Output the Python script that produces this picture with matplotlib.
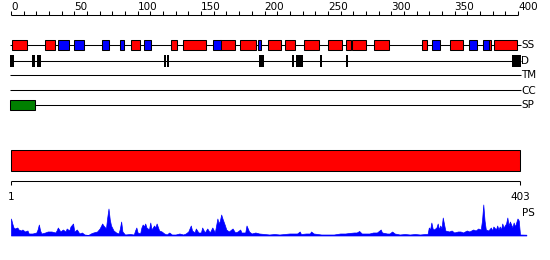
import matplotlib
matplotlib.use('Agg')
import matplotlib.pyplot as plt
import numpy as np

# sequence / ruler
seq_len = 403
ruler_ticks = list(range(0, 401, 10))
ruler_labels = [0, 50, 100, 150, 200, 250, 300, 350, 400]

# secondary structure (start, end) in residues
ss_helix = [(1, 13), (27, 35), (95, 102), (126, 131), (136, 154), (165, 177),
            (181, 193), (203, 213), (216, 224), (231, 243), (250, 261),
            (264, 268), (269, 280), (286, 298), (324, 328), (346, 357),
            (377, 378.5), (381, 399)]
ss_strand = [(37, 45.5), (50, 57.6), (72, 77), (86, 89.2), (105, 110.2),
             (159, 165.4), (195, 197), (332.4, 338.5), (361, 367.4), (372.5, 377)]
disorder = [(-0.8, 2.5), (16.6, 18.7), (20.3, 23.4), (121, 122.1), (123.3, 124.9),
            (195.9, 199.6), (222, 223.5), (225, 230.1), (243.8, 245.4),
            (264.3, 265.6), (395.5, 402.1)]
transmembrane = []
coiled_coil = []
signal_peptide = [(-0.5, 19)]
track_names = ['SS', 'D', 'TM', 'CC', 'SP']

# domain bar
domain = (1, 403)

# PS profile (residue, score)
ps_pos = [1, 2, 3, 4, 6, 7, 9, 10, 12, 14, 15, 18, 21, 22, 23, 24, 25, 28, 30, 33,
          36, 37, 38, 40, 42, 44, 45, 47, 48, 50, 51, 53, 55, 57, 59, 62, 64, 66, 69, 71,
          73, 74, 76, 77, 78, 79, 80, 82, 84, 86, 87, 88, 89, 91, 95, 98, 99, 100, 101, 103,
          104, 105, 106, 107, 108, 110, 111, 112, 114, 115, 116, 118, 120, 122, 124, 126, 128, 131, 134, 137,
          139, 141, 143, 144, 146, 147, 149, 151, 152, 154, 156, 158, 160, 162, 163, 164, 165, 166, 167, 168,
          170, 171, 173, 175, 176, 178, 180, 182, 183, 186, 187, 189, 191, 194, 197, 201, 205, 209, 213, 217,
          221, 226, 227, 229, 230, 234, 237, 238, 240, 243, 246, 251, 256, 261, 265, 268, 272, 274, 276, 278,
          281, 284, 287, 290, 293, 294, 298, 300, 302, 304, 308, 312, 316, 320, 324, 328, 330, 331, 332, 333,
          334, 335, 337, 338, 339, 340, 341, 342, 344, 347, 349, 351, 354, 356, 358, 361, 363, 366, 368, 370,
          372, 373, 374, 375, 376, 378, 380, 381, 382, 384, 385, 386, 387, 388, 389, 390, 392, 393, 394, 395,
          397, 398, 399, 401, 402, 403, 408]
ps_val = [17, 12, 8, 7, 8, 6, 5, 6, 4, 5, 2, 2, 3, 6, 11, 5, 2, 3, 4, 4,
          3, 5, 8, 4, 6, 4, 7, 5, 9, 12, 4, 6, 2, 3, 1, 0.5, 2, 3, 4, 7,
          12, 10, 7, 18, 27, 16, 10, 5, 3, 2, 7, 14, 4, 1, 1.5, 1, 5, 8, 3, 2,
          8, 11, 9, 12, 8, 6, 13, 6, 10, 8, 12, 5, 4, 2, 1, 3, 1, 1, 2, 1,
          2, 4, 10, 5, 3, 7, 3, 3, 8, 3, 7, 3, 8, 3, 10, 17, 12, 15, 21, 17,
          10, 6, 4, 6, 7, 3, 4, 6, 3, 3, 10, 4, 2, 3, 2, 1.5, 1, 1.5, 1, 1.5,
          2, 2, 2, 4, 1.5, 2, 2, 4, 2, 1.5, 1, 1, 1, 2, 2, 2.5, 3, 3, 4.5, 2,
          2, 2, 3, 3, 6, 3, 2, 2, 4, 2, 1, 1.5, 1, 1.5, 1, 1.5, 1.5, 8, 6, 13,
          7, 6, 8, 12, 6, 10, 7, 18, 5, 4, 5, 3, 4, 4, 3, 5, 4, 6, 5, 7,
          6, 15, 31, 15, 6, 5, 8, 5, 9, 6, 10, 6, 9, 6, 12, 8, 12, 18, 10, 14,
          8, 13, 9, 17, 15, 1, 0.8]

RED = '#ff0000'
BLUE = '#0000ff'
GREEN = '#008000'
LW = 0.75
FS = 7.5

fig = plt.figure(figsize=(5.5, 2.6), dpi=100)

# top part: 0-based ruler, 1.2675 px per residue, 0 at x=11
px = 1.2675
ax = fig.add_axes([0, 0, 1, 1])
ax.set_xlim(-11 / px, 539 / px)
ax.set_ylim(260, 0)
ax.axis('off')

ax.hlines(15, 0, 400, color='k', lw=LW)
ax.vlines(ruler_ticks, 11, 15, color='k', lw=LW)
for v in ruler_labels:
    ax.text(v, 10, str(v), ha='left', va='baseline', fontsize=FS, family='DejaVu Sans')

rows = [45, 61, 75, 90, 105]
for y, name in zip(rows, track_names):
    ax.hlines(y, -0.8, 402, color='k', lw=LW, zorder=1)
    ax.text(402.3, y + 0.5, name, ha='left', va='center', fontsize=FS, family='DejaVu Sans')

def boxes(segs, y, color, h=10.5, edge=True):
    if not segs:
        return
    left = [s for s, e in segs]
    width = [e - s for s, e in segs]
    if edge:
        ax.barh([y] * len(segs), width, left=left, height=h, color=color,
                edgecolor='k', linewidth=LW, zorder=2)
    else:
        ax.barh([y] * len(segs), width, left=left, height=h + 1, color=color,
                linewidth=0, zorder=2)

boxes(ss_helix, rows[0], RED)
boxes(ss_strand, rows[0], BLUE)
boxes(disorder, rows[1], 'k', edge=False)
boxes(transmembrane, rows[2], 'k', edge=False)
boxes(coiled_coil, rows[3], 'k', edge=False)
boxes(signal_peptide, rows[4], GREEN)

# bottom part: 1 at x=11, 403 at x=520
px2 = (520 - 11) / (seq_len - 1)
ax2 = fig.add_axes([0, 0, 1, 1])
ax2.set_xlim(1 - 11 / px2, 1 + 539 / px2)
ax2.set_ylim(260, 0)
ax2.axis('off')
ax2.patch.set_visible(False)

ax2.barh(160.3, domain[1] - domain[0], left=domain[0], height=20.5, color=RED,
         edgecolor='k', linewidth=LW)
ax2.hlines(180.7, 1, seq_len, color='k', lw=LW)
ax2.vlines([1, seq_len], 180.7, 185, color='k', lw=LW)
ax2.text(1, 200, '1', ha='center', va='baseline', fontsize=FS, family='DejaVu Sans')
ax2.text(seq_len, 200, str(seq_len), ha='center', va='baseline', fontsize=FS, family='DejaVu Sans')
ax2.text(404.5, 216, 'PS', ha='left', va='baseline', fontsize=FS, family='DejaVu Sans')

base = 235.5
ax2.fill_between(ps_pos, base, base - np.array(ps_val), color=BLUE, lw=0.5)

fig.savefig('out.png', dpi=100)
